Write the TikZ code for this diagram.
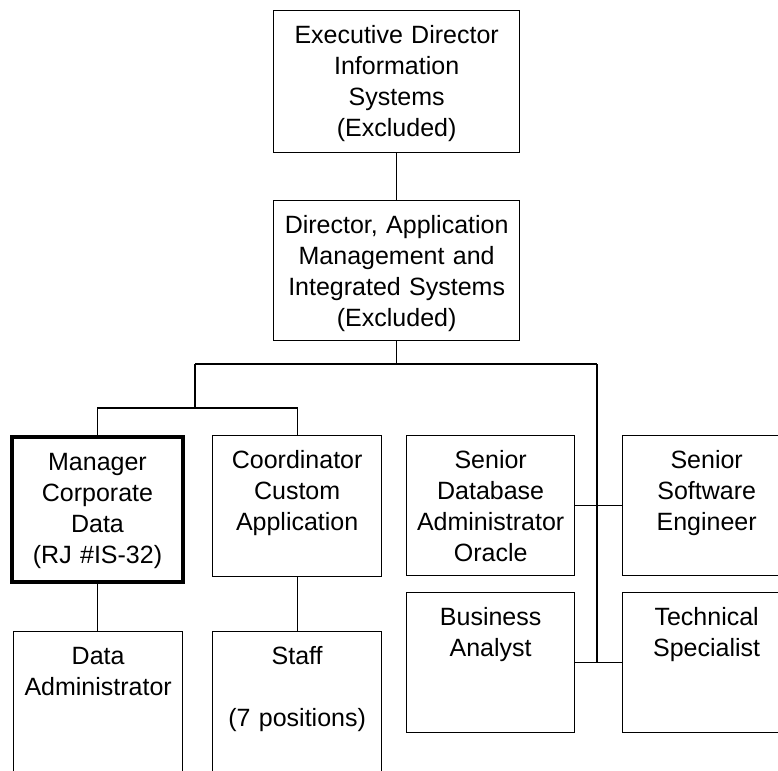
\documentclass[tikz,border=0pt]{standalone}
\usepackage{fontspec}
\setmainfont{Liberation Sans}
\tikzset{post/.style 2 args={draw,line width=1.3pt,anchor=north west,inner xsep=2pt,inner ysep=3pt,
  text width=#1pt-5pt,text height=30pt,text depth=#2pt-37pt,align=center,
  font=\fontsize{25}{31}\selectfont}}
\tikzstyle{link}=[line width=1.3pt]
\tikzstyle{heavy}=[line width=4pt]
\begin{document}
\begin{tikzpicture}[x=1pt,y=-1pt]
    \useasboundingbox (0,0) rectangle (778,770);
    \node[post={247}{143}] (exec) at (273,10) {Executive Director\\Information\\Systems\\(Excluded)};
    \node[post={247}{141}] (dir) at (273,200) {Director, Application\\Management and\\Integrated Systems\\(Excluded)};
    \node[post={172}{146},heavy] (mgr) at (10,435) {Manager\\Corporate\\Data\\(RJ \#IS-32)};
    \node[post={170}{142}] (coord) at (212,435) {Coordinator\\Custom\\Application};
    \node[post={169}{141}] (sdba) at (406,435) {Senior\\Database\\Administrator\\Oracle};
    \node[post={169}{141}] (sse) at (622,435) {Senior\\Software\\Engineer};
    \node[post={169}{141}] (ba) at (406,592) {Business\\Analyst};
    \node[post={169}{141}] (tech) at (622,592) {Technical\\Specialist};
    \node[post={170}{170}] (dadmin) at (13,631) {Data\\Administrator};
    \node[post={170}{170}] (staff) at (212,631) {Staff\\[31pt](7 positions)};
    \coordinate (busL) at (195,364);
    \coordinate (busR) at (597,364);
    \coordinate (subL) at (195,408);
    % top of the chart
    \draw[link] (exec) -- (dir);
    \draw[link] (dir.south) -- (dir.south |- busL);
    \draw[link] (busL) -- (busR);
    \draw[link] (busL) -- (subL);
    \draw[link] (mgr.north) |- (subL) -| (coord.north);
    \draw[link] (mgr.south) -- (mgr.south |- dadmin.north);
    \draw[link] (coord) -- (staff);
    % right branch
    \draw[link] (busR) -- (busR |- ba.east);
    \draw[link] (sdba.east) -- (sse.west);
    \draw[link] (ba.east) -- (tech.west);
\end{tikzpicture}
\end{document}
